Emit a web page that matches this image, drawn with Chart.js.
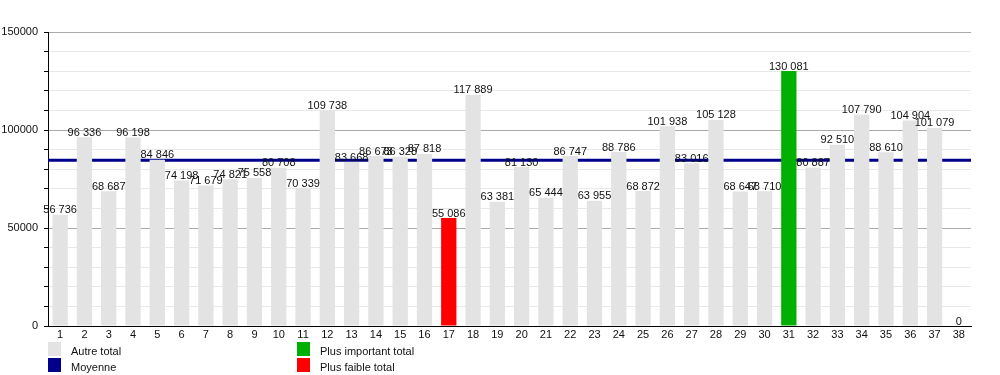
<!DOCTYPE html>
<html>
<head>
<meta charset="utf-8">
<script src="https://cdn.jsdelivr.net/npm/chart.js@4/dist/chart.umd.min.js"></script>
<style>
  body { margin: 0; background: #fff; font-family: "Liberation Sans", Arial, sans-serif; }
  #wrap { position: relative; width: 1000px; height: 375px; }
  #myChart { position: absolute; left: 0; top: 0; }
  .leg { position: absolute; font-size: 11px; color: #111; line-height: 14px; }
  .leg span { position: absolute; left: 0; top: 0; width: 13px; height: 14px; }
  .leg b { font-weight: normal; position: absolute; left: 23px; top: 2px; white-space: nowrap; }
</style>
</head>
<body>
<div id="wrap">
  <canvas id="myChart" width="1000" height="345"></canvas>
  <div class="leg" style="left:48px;top:342px"><span style="background:#e3e3e3"></span><b>Autre total</b></div>
  <div class="leg" style="left:48px;top:358px"><span style="background:#00008b"></span><b>Moyenne</b></div>
  <div class="leg" style="left:297px;top:342px"><span style="background:#00b000"></span><b>Plus important total</b></div>
  <div class="leg" style="left:297px;top:358px"><span style="background:#ff0000"></span><b>Plus faible total</b></div>
</div>
<script>
var labels = ['1','2','3','4','5','6','7','8','9','10','11','12','13','14','15','16','17','18','19',
              '20','21','22','23','24','25','26','27','28','29','30','31','32','33','34','35','36','37','38'];
var totals = [56736, 96336, 68687, 96198, 84846, 74198, 71679, 74821, 75558, 80708,
              70339, 109738, 83668, 86673, 86328, 87818, 55086, 117889, 63381, 81130,
              65444, 86747, 63955, 88786, 68872, 101938, 83016, 105128, 68647, 68710,
              130081, 80887, 92510, 107790, 88610, 104904, 101079, 0];
var moyenne = 84565;
var plusImportant = 31;
var plusFaible = 17;

var gris = '#e3e3e3';
var vert = '#00b000';
var rouge = '#ff0000';
var bleu = '#00008b';

var colors = labels.map(function (l) {
    if (l == String(plusImportant)) return vert;
    if (l == String(plusFaible)) return rouge;
    return gris;
});

function fmt(n) {
    return String(n).replace(/\B(?=(\d{3})+(?!\d))/g, ' ');
}

// mean line, drawn under the bars
var meanLine = {
    id: 'meanLine',
    beforeDatasetsDraw: function (chart) {
        var ctx = chart.ctx, a = chart.chartArea;
        var y = chart.scales.y.getPixelForValue(moyenne);
        ctx.save();
        ctx.strokeStyle = bleu;
        ctx.lineWidth = 3;
        ctx.beginPath();
        ctx.moveTo(a.left, y);
        ctx.lineTo(a.right, y);
        ctx.stroke();
        ctx.restore();
    }
};

// value labels above the bars
var valueLabels = {
    id: 'valueLabels',
    afterDatasetsDraw: function (chart) {
        var ctx = chart.ctx;
        var meta = chart.getDatasetMeta(0);
        ctx.save();
        ctx.font = '11px "Liberation Sans", Arial, sans-serif';
        ctx.fillStyle = '#111';
        ctx.textAlign = 'center';
        ctx.textBaseline = 'bottom';
        meta.data.forEach(function (bar, i) {
            ctx.fillText(fmt(totals[i]), bar.x, bar.y + 1);
        });
        ctx.restore();
    }
};

var ctx = document.getElementById('myChart').getContext('2d');
var chart = new Chart(ctx, {
    type: 'bar',
    data: {
        labels: labels,
        datasets: [{
            data: totals,
            backgroundColor: colors,
            barPercentage: 0.63,
            categoryPercentage: 1.0
        }]
    },
    plugins: [meanLine, valueLabels],
    options: {
        responsive: false,
        animation: false,
        events: [],
        layout: { padding: { top: 32, right: 29, left: 0, bottom: 0 } },
        plugins: { legend: { display: false }, tooltip: { enabled: false } },
        scales: {
            x: {
                grid: { display: false, tickLength: 0 },
                border: { display: true, color: '#000', width: 1 },
                ticks: { color: '#111', font: { size: 11, family: '"Liberation Sans", Arial' }, padding: 2, maxRotation: 0, autoSkip: false },
                afterFit: function (s) { s.height = 19; }
            },
            y: {
                min: 0,
                max: 150000,
                afterFit: function (s) { s.width = 48; },
                border: { display: true, color: '#000', width: 1 },
                grid: {
                    color: function (c) { return c.tick && c.tick.value % 50000 === 0 ? '#aaaaaa' : '#e8e8e8'; },
                    tickColor: '#000',
                    tickLength: 4
                },
                ticks: {
                    stepSize: 10000,
                    padding: 6,
                    color: '#111',
                    font: { size: 11, family: '"Liberation Sans", Arial' },
                    callback: function (v) { return v % 50000 === 0 ? String(v) : ''; }
                }
            }
        }
    }
});
</script>
</body>
</html>
